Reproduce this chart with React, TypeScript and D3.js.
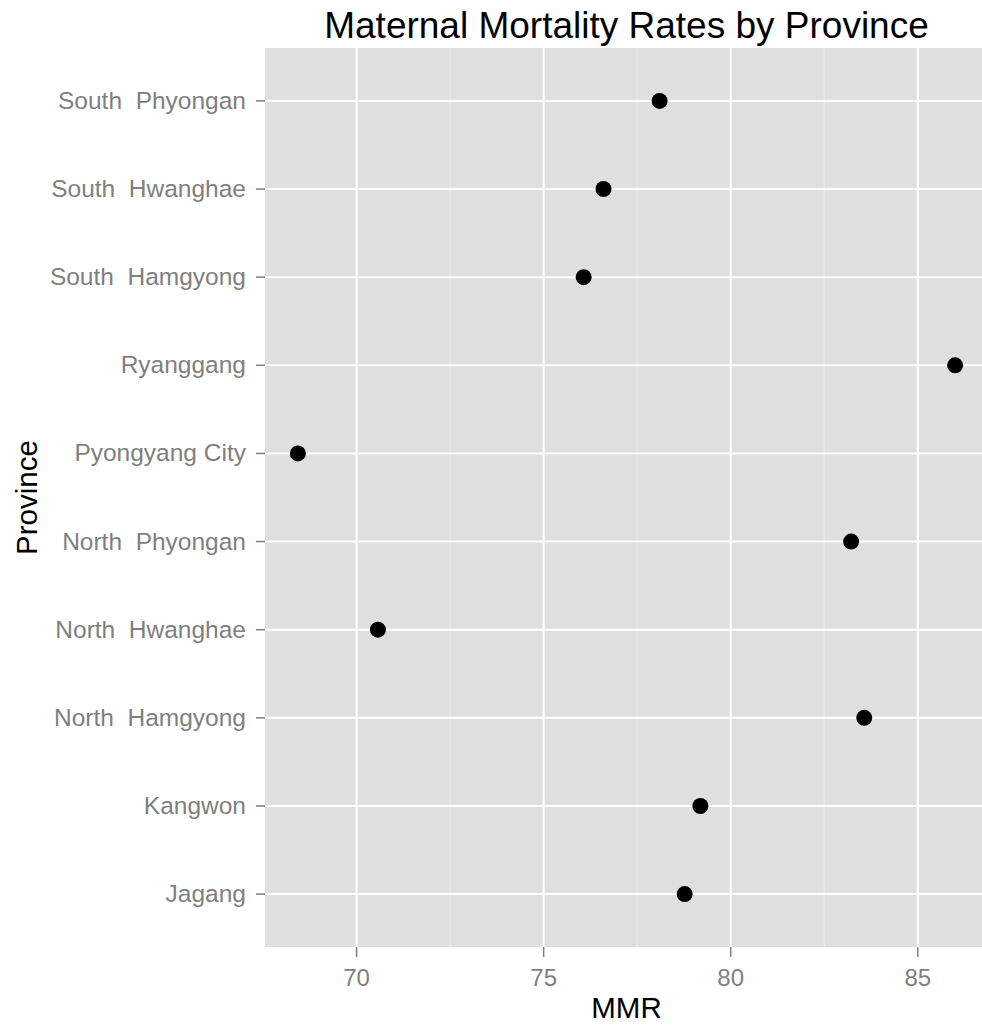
import React from "react";
import * as d3 from "d3";

const provinces = [
  "South  Phyongan",
  "South  Hwanghae",
  "South  Hamgyong",
  "Ryanggang",
  "Pyongyang City",
  "North  Phyongan",
  "North  Hwanghae",
  "North  Hamgyong",
  "Kangwon",
  "Jagang",
];
const mmr = [78.1, 76.6, 76.07, 86.0, 68.43, 83.22, 70.57, 83.57, 79.19, 78.77];
const xTicks = [70, 75, 80, 85];
const xMinor = [67.5, 72.5, 77.5, 82.5, 87.5];

const W = 982;
const H = 1030;
const FONT = "'Liberation Sans', Arial, Helvetica, sans-serif";

export default function App() {
  const left = 265;
  const right = 988;
  const top = 48;
  const bottom = 947;

  const lo = d3.min(mmr) as number;
  const hi = d3.max(mmr) as number;
  const pad = (hi - lo) * 0.05;
  const x = d3.scaleLinear().domain([lo - pad, hi + pad]).range([left, right]);
  const y = d3.scalePoint<string>().domain(provinces).range([top, bottom]).padding(0.6);

  return (
    <svg
      width={W}
      height={H}
      style={{ position: "absolute", left: 0, top: 0, fontFamily: FONT }}
    >
      <rect x={0} y={0} width={W} height={H} fill="#ffffff" />
      <defs>
        <clipPath id="panel">
          <rect x={left} y={top} width={right - left} height={bottom - top} />
        </clipPath>
      </defs>
      <g clipPath="url(#panel)">
        <rect x={left} y={top} width={right - left} height={bottom - top} fill="#dfdfdf" />
        {xMinor.map((v) => (
          <line key={"m" + v} x1={x(v)} x2={x(v)} y1={top} y2={bottom} stroke="#ececec" strokeWidth={1} />
        ))}
        {xTicks.map((v) => (
          <line key={"g" + v} x1={x(v)} x2={x(v)} y1={top} y2={bottom} stroke="#ffffff" strokeWidth={2} />
        ))}
        {provinces.map((p) => (
          <line key={"h" + p} x1={left} x2={right} y1={y(p)} y2={y(p)} stroke="#ffffff" strokeWidth={2} />
        ))}
        {provinces.map((p, i) => (
          <circle key={"c" + p} cx={x(mmr[i])} cy={y(p)} r={8} fill="#000000" />
        ))}
      </g>
      {/* y axis */}
      {provinces.map((p) => (
        <g key={"yt" + p}>
          <line x1={left - 9} x2={left} y1={y(p)} y2={y(p)} stroke="#7f7f7f" strokeWidth={1.5} />
          <text
            x={left - 19}
            y={(y(p) as number) + 8}
            textAnchor="end"
            fontSize={24.5}
            fill="#7f7f7f"
            style={{ whiteSpace: "pre" }}
          >
            {p}
          </text>
        </g>
      ))}
      {/* x axis */}
      {xTicks.map((v) => (
        <g key={"xt" + v}>
          <line x1={x(v)} x2={x(v)} y1={bottom} y2={bottom + 10} stroke="#7f7f7f" strokeWidth={1.5} />
          <text x={x(v)} y={986} textAnchor="middle" fontSize={24} fill="#7f7f7f">
            {v}
          </text>
        </g>
      ))}
      <text x={(left + right) / 2} y={1018} textAnchor="middle" fontSize={29.5} fill="#000000">
        MMR
      </text>
      <text
        transform={`translate(37, ${(top + bottom) / 2}) rotate(-90)`}
        textAnchor="middle"
        fontSize={29.5}
        fill="#000000"
      >
        Province
      </text>
      <text x={(left + right) / 2} y={38} textAnchor="middle" fontSize={37} fill="#000000">
        Maternal Mortality Rates by Province
      </text>
    </svg>
  );
}
